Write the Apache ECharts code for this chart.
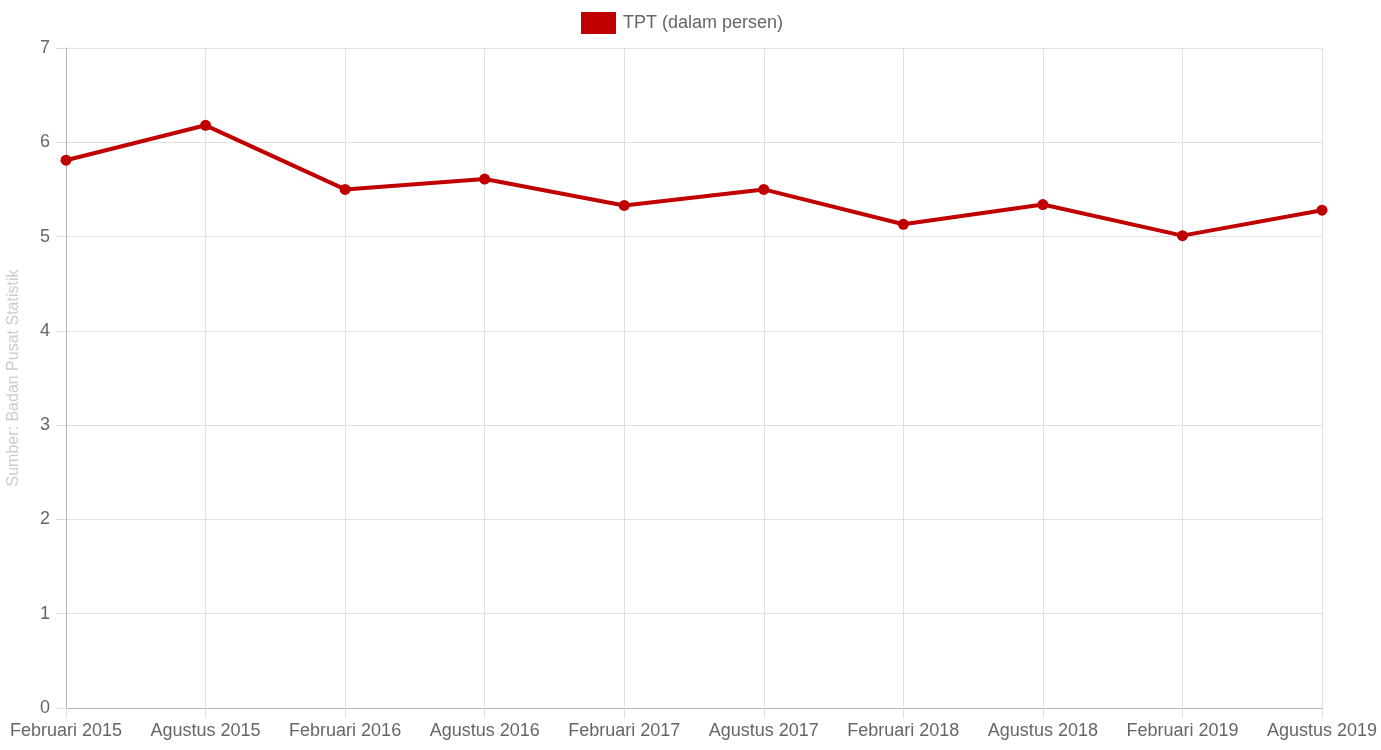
<!DOCTYPE html>
<html>
<head>
<meta charset="utf-8">
<script src="https://cdn.jsdelivr.net/npm/echarts@6/dist/echarts.min.js"></script>
<style>html,body{margin:0;padding:0;background:#fff}#c{width:1381px;height:750px}</style>
</head>
<body>
<div id="c"></div>
<script>
const categories = ["Februari 2015","Agustus 2015","Februari 2016","Agustus 2016","Februari 2017","Agustus 2017","Februari 2018","Agustus 2018","Februari 2019","Agustus 2019"];
const tptValues = [5.81, 6.18, 5.50, 5.61, 5.33, 5.50, 5.13, 5.34, 5.01, 5.28];
const seriesName = "TPT (dalam persen)";
const yAxisName = "Sumber: Badan Pusat Statistik";

const chart = echarts.init(document.getElementById('c'));
const font = '"Liberation Sans", Arial, Helvetica, sans-serif';
chart.setOption({
  animation: false,
  textStyle: { fontFamily: font },
  legend: {
    top: 7, left: 576,
    itemWidth: 35, itemHeight: 22, itemGap: 10,
    icon: 'rect',
    textStyle: { color: '#666', fontSize: 18, fontFamily: font, padding: [0, 0, 0, 2] },
    data: [{ name: seriesName, itemStyle: { color: '#c00000' } }]
  },
  grid: { left: 66, right: 59, top: 48, bottom: 42, containLabel: false, outerBoundsMode: 'none' },
  xAxis: {
    type: 'category', data: categories, boundaryGap: false,
    axisLine: { lineStyle: { color: '#b3b3b3', width: 1 } },
    axisTick: { show: true, length: 10, alignWithLabel: true, lineStyle: { color: '#dedede' } },
    axisLabel: { color: '#666', fontSize: 18, margin: 14, fontFamily: font, interval: 0 },
    splitLine: { show: true, lineStyle: { color: '#e0e0e0' } }
  },
  yAxis: {
    type: 'value', min: 0, max: 7, interval: 1,
    name: yAxisName, nameLocation: 'middle', nameGap: 44,
    nameTextStyle: { color: '#cccccc', fontSize: 16, fontFamily: font },
    axisLine: { show: true, lineStyle: { color: '#b3b3b3' } },
    axisTick: { show: true, length: 10, lineStyle: { color: '#dedede' } },
    axisLabel: { color: '#666', fontSize: 18, margin: 16, fontFamily: font },
    splitLine: { show: true, lineStyle: { color: '#e0e0e0' } }
  },
  series: [{
    name: seriesName, type: 'line', data: tptValues,
    color: '#c00000',
    lineStyle: { color: '#c00000', width: 4 },
    itemStyle: { color: '#c00000' },
    symbol: 'circle', symbolSize: 11, showSymbol: true
  }]
});
</script>
</body>
</html>
